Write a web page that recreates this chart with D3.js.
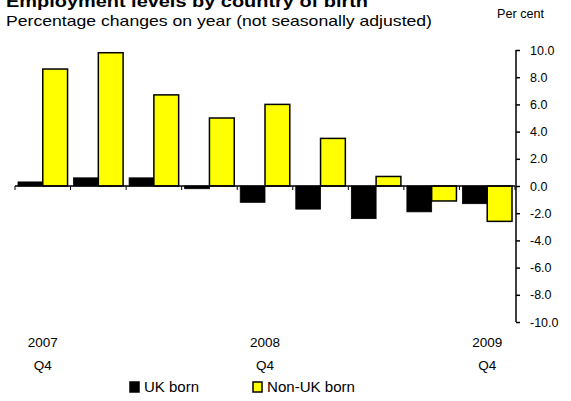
<!DOCTYPE html>
<html><head><meta charset="utf-8">
<script src="https://cdn.jsdelivr.net/npm/d3@7"></script>
<style>body{margin:0;background:#fff}svg{display:block;font-family:"Liberation Sans",Arial,sans-serif}</style>
</head><body>
<svg id="c" width="571" height="401"></svg>
<script>
const categories = ["2007 Q4","2008 Q1","2008 Q2","2008 Q3","2008 Q4","2009 Q1","2009 Q2","2009 Q3","2009 Q4"];
const yearLabels = ["2007","","","","2008","","","","2009"];
const quarterLabels = ["Q4","","","","Q4","","","","Q4"];
const seriesNames = ["UK born","Non-UK born"];
const ukBorn = [0.3, 0.6, 0.6, -0.2, -1.2, -1.7, -2.4, -1.9, -1.3];
const nonUkBorn = [8.6, 9.8, 6.7, 5.0, 6.0, 3.5, 0.7, -1.1, -2.6];
const yTicks = [10, 8, 6, 4, 2, 0, -2, -4, -6, -8, -10];
const colors = ["#000000", "#ffff00"];

const svg = d3.select("#c");
const x0 = d3.scaleBand().domain(categories).range([15, 515]).padding(0);
const x1 = d3.scaleBand().domain(seriesNames).range([3, x0.bandwidth() - 3]).padding(0);
const y = d3.scaleLinear().domain([-10, 10]).range([322, 50]);
const data = categories.map((c, i) => ({c, vals: [ukBorn[i], nonUkBorn[i]]}));

// Title (clipped at top edge, as in the reference)
svg.append("text").attr("x", 6).attr("y", 7).attr("font-size", 17).attr("font-weight", "bold")
  .attr("textLength", 362).attr("lengthAdjust", "spacingAndGlyphs")
  .text("Employment levels by country of birth");
svg.append("text").attr("x", 6).attr("y", 26).attr("font-size", 14.5).attr("textLength", 426).attr("lengthAdjust", "spacingAndGlyphs")
  .text("Percentage changes on year (not seasonally adjusted)");
svg.append("text").attr("x", 497).attr("y", 18).attr("font-size", 12.5).attr("textLength", 47).attr("lengthAdjust", "spacingAndGlyphs").text("Per cent");

// Bars
const groups = svg.append("g").selectAll("g").data(data).join("g")
  .attr("transform", d => `translate(${x0(d.c)},0)`);
groups.selectAll("rect").data(d => d.vals.map((v, k) => ({v, k}))).join("rect")
  .attr("x", d => x1(seriesNames[d.k]))
  .attr("width", x1.bandwidth())
  .attr("y", d => y(Math.max(0, d.v)))
  .attr("height", d => Math.abs(y(d.v) - y(0)))
  .attr("fill", d => colors[d.k])
  .attr("stroke", "#000").attr("stroke-width", d => d.k === 1 ? 1.5 : 0.8);

// X axis line and boundary ticks
const bounds = categories.map(c => x0(c)).concat([x0.range()[1]]);
svg.append("line").attr("x1", 15).attr("x2", 515).attr("y1", y(0)).attr("y2", y(0)).attr("stroke", "#000").attr("stroke-width", 1.5);
svg.append("g").selectAll("line").data(bounds).join("line")
  .attr("x1", d => d).attr("x2", d => d).attr("y1", y(0)).attr("y2", y(0) + 4)
  .attr("stroke", "#000").attr("stroke-width", 1);

// X labels
svg.append("g").selectAll("text").data(categories).join("text")
  .attr("x", d => x0(d) + x0.bandwidth() / 2).attr("y", 347).attr("text-anchor", "middle").attr("font-size", 13.5)
  .text((d, i) => yearLabels[i]);
svg.append("g").selectAll("text").data(categories).join("text")
  .attr("x", d => x0(d) + x0.bandwidth() / 2).attr("y", 370).attr("text-anchor", "middle").attr("font-size", 13.5)
  .text((d, i) => quarterLabels[i]);

// Y axis on right
const yAxis = d3.axisRight(y).tickValues(yTicks).tickSize(4).tickPadding(10).tickFormat(d => d3.format(".1f")(d).replace("−", "-"));
const ga = svg.append("g").attr("transform", "translate(516,0)").call(yAxis);
ga.select(".domain").attr("stroke-width", 1.5).attr("d", `M0,${y(10)}V${y(-10)}`);
ga.selectAll(".tick line").attr("stroke-width", 1.5);
ga.selectAll(".tick text").attr("font-size", 12.5).attr("font-family", "Liberation Sans, Arial, sans-serif").attr("fill", "#000");

// Legend
const legend = svg.append("g");
const legX = [130, 253];
const legW = [55, 88];
seriesNames.forEach((s, k) => {
  legend.append("rect").attr("x", legX[k]).attr("y", 382).attr("width", 9).attr("height", 10)
    .attr("fill", colors[k]).attr("stroke", "#000").attr("stroke-width", 1.5);
  legend.append("text").attr("x", legX[k] + 14).attr("y", 392).attr("font-size", 14)
    .attr("textLength", legW[k]).attr("lengthAdjust", "spacingAndGlyphs").text(s);
});
</script>
</body></html>
